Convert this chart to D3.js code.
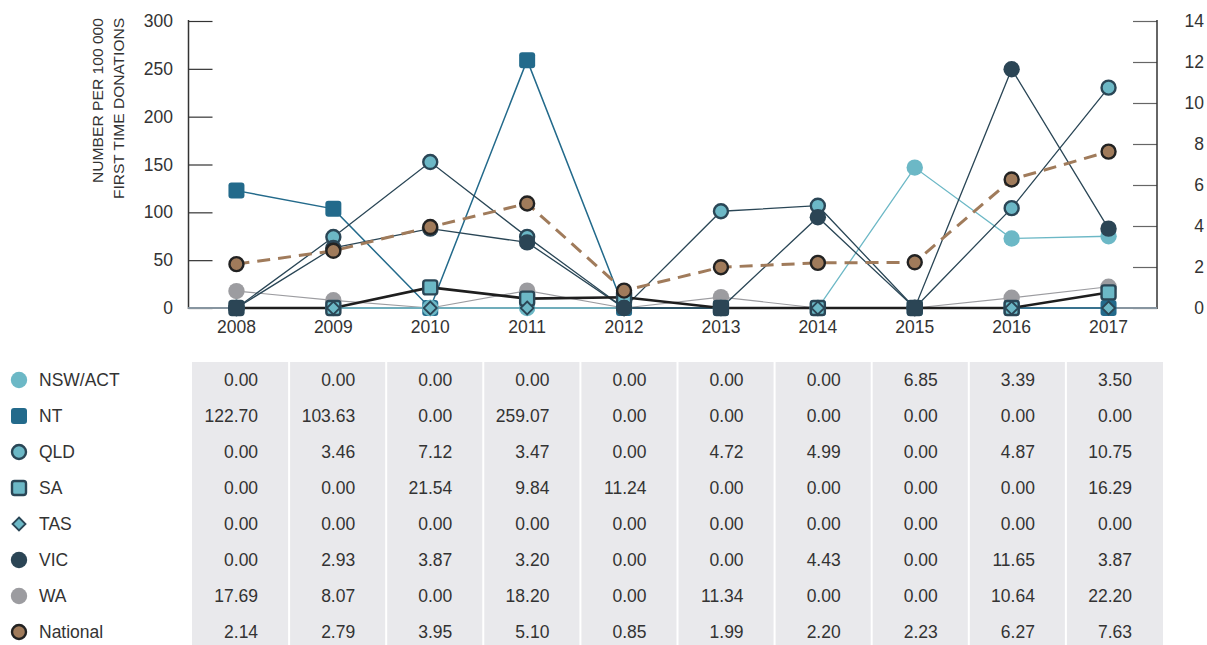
<!DOCTYPE html>
<html>
<head>
<meta charset="utf-8">
<script src="https://cdn.jsdelivr.net/npm/d3@7"></script>
<style>
  html, body { margin: 0; padding: 0; background: #fff; }
  svg { display: block; }
  text { font-family: "Liberation Sans", Arial, Helvetica, sans-serif; fill: #333; }
</style>
</head>
<body>
<svg id="chart" width="1207" height="645"></svg>
<script>
// ---- data ----
const years = ["2008","2009","2010","2011","2012","2013","2014","2015","2016","2017"];
const leftTicks = [0, 50, 100, 150, 200, 250, 300];
const rightTicks = [0, 2, 4, 6, 8, 10, 12, 14];
const nswAct   = [0, 0, 0, 0, 0, 0, 0, 6.85, 3.39, 3.50];
const nt       = [122.70, 103.63, 0, 259.07, 0, 0, 0, 0, 0, 0];
const qld      = [0, 3.46, 7.12, 3.47, 0, 4.72, 4.99, 0, 4.87, 10.75];
const sa       = [0, 0, 21.54, 9.84, 11.24, 0, 0, 0, 0, 16.29];
const tas      = [0, 0, 0, 0, 0, 0, 0, 0, 0, 0];
const vic      = [0, 2.93, 3.87, 3.20, 0, 0, 4.43, 0, 11.65, 3.87];
const wa       = [17.69, 8.07, 0, 18.20, 0, 11.34, 0, 0, 10.64, 22.20];
const national = [2.14, 2.79, 3.95, 5.10, 0.85, 1.99, 2.20, 2.23, 6.27, 7.63];
const yTitle = ["NUMBER PER 100 000", "FIRST TIME DONATIONS"];

const TEAL = "#6cb8c6", DARK = "#2a4656", NTBLUE = "#236a8b", GREY = "#9c9ca0", BROWN = "#a07b5b";

const series = [
  {name:"NSW/ACT", values:nswAct, axis:"R", line:TEAL, lw:1.3, marker:"circle", fill:TEAL, stroke:null},
  {name:"NT", values:nt, axis:"L", line:NTBLUE, lw:1.5, marker:"square", fill:NTBLUE, stroke:null},
  {name:"QLD", values:qld, axis:"R", line:DARK, lw:1.3, marker:"circle", fill:TEAL, stroke:DARK},
  {name:"SA", values:sa, axis:"L", line:"#1e1e1e", lw:2.6, marker:"square", fill:TEAL, stroke:DARK},
  {name:"TAS", values:tas, axis:"L", line:"#7e8e9a", lw:2.2, marker:"diamond", fill:TEAL, stroke:DARK},
  {name:"VIC", values:vic, axis:"R", line:DARK, lw:1.3, marker:"circle", fill:"#2b4555", stroke:null},
  {name:"WA", values:wa, axis:"L", line:GREY, lw:1.2, marker:"circle", fill:GREY, stroke:null},
  {name:"National", values:national, axis:"R", line:BROWN, lw:3, dash:"13,8", marker:"circle", fill:BROWN, stroke:"#222"}
];

const svg = d3.select("#chart");

// ---- scales ----
const x = d3.scaleBand().domain(years).range([188, 1157]);
const cx = d => x(d) + x.bandwidth() / 2;
const yL = d3.scaleLinear().domain([0, 300]).range([308, 21]);
const yR = d3.scaleLinear().domain([0, 14]).range([308, 21]);

// ---- axes ----
const gL = svg.append("g").attr("transform", "translate(188.5,0)")
  .call(d3.axisRight(yL).tickValues(leftTicks).tickSize(24).tickFormat(""));
gL.select(".domain").remove();
gL.selectAll(".tick line").attr("stroke", "#333").attr("stroke-width", 1.2);
svg.append("line").attr("x1", 188.5).attr("x2", 188.5).attr("y1", 20).attr("y2", 309)
  .attr("stroke", "#333").attr("stroke-width", 1.5);
svg.append("g").selectAll("text").data(leftTicks).join("text")
  .attr("x", 173).attr("y", d => yL(d)).attr("dy", "0.35em")
  .attr("text-anchor", "end").attr("font-size", 17.5).text(d => d);

const gR = svg.append("g").attr("transform", "translate(1157,0)")
  .call(d3.axisLeft(yR).tickValues(rightTicks).tickSize(24).tickFormat(""));
gR.select(".domain").remove();
gR.selectAll(".tick line").attr("stroke", "#666").attr("stroke-width", 1.2);
svg.append("line").attr("x1", 1157).attr("x2", 1157).attr("y1", 20).attr("y2", 309)
  .attr("stroke", "#333").attr("stroke-width", 1.5);
svg.append("g").selectAll("text").data(rightTicks).join("text")
  .attr("x", 1204).attr("y", d => yR(d)).attr("dy", "0.35em")
  .attr("text-anchor", "end").attr("font-size", 17.5).text(d => d);

// baseline (x axis)
svg.append("line").attr("x1", 188).attr("x2", 1157).attr("y1", 308).attr("y2", 308)
  .attr("stroke", "#8795a0").attr("stroke-width", 2.2);

svg.append("g").selectAll("text").data(years).join("text")
  .attr("x", d => cx(d)).attr("y", 333).attr("text-anchor", "middle")
  .attr("font-size", 17.5).text(d => d);

// y title
const titleLen = [165, 181];
yTitle.forEach((t, i) => {
  svg.append("text").attr("transform", `translate(${103 + i * 21},18) rotate(-90)`)
    .attr("text-anchor", "end").attr("font-size", 15.5)
    .attr("textLength", titleLen[i]).attr("lengthAdjust", "spacingAndGlyphs")
    .text(t);
});

// ---- lines ----
const lineOrder = ["TAS", "WA", "NSW/ACT", "NT", "QLD", "VIC", "SA", "National"];
const gLines = svg.append("g");
lineOrder.forEach(n => {
  const s = series.find(v => v.name === n);
  const ys = s.axis === "L" ? yL : yR;
  const ln = d3.line().x((d, i) => cx(years[i])).y(d => ys(d));
  gLines.append("path").datum(s.values).attr("d", ln).attr("fill", "none")
    .attr("stroke", s.line).attr("stroke-width", s.lw)
    .attr("stroke-dasharray", s.dash || null);
});

// ---- markers ----
function drawMarker(g, s, px, py) {
  if (s.marker === "circle") {
    if (s.stroke) {
      g.append("circle").attr("cx", px).attr("cy", py).attr("r", 7)
        .attr("fill", s.fill).attr("stroke", s.stroke).attr("stroke-width", 2.4);
    } else {
      g.append("circle").attr("cx", px).attr("cy", py).attr("r", 8.2).attr("fill", s.fill);
    }
  } else if (s.marker === "square") {
    if (s.stroke) {
      g.append("rect").attr("x", px - 7).attr("y", py - 7).attr("width", 14).attr("height", 14)
        .attr("rx", 2.5).attr("fill", s.fill).attr("stroke", s.stroke).attr("stroke-width", 2.4);
    } else {
      g.append("rect").attr("x", px - 8).attr("y", py - 8).attr("width", 16).attr("height", 16)
        .attr("rx", 3).attr("fill", s.fill);
    }
  } else if (s.marker === "diamond") {
    const r = 6.5;
    g.append("path").attr("d", `M${px},${py - r}L${px + r},${py}L${px},${py + r}L${px - r},${py}Z`)
      .attr("fill", s.fill).attr("stroke", s.stroke).attr("stroke-width", 1.8);
  }
}
const markerOrder = ["WA", "NT", "NSW/ACT", "SA", "QLD", "TAS", "VIC", "National"];
const gMarks = svg.append("g");
markerOrder.forEach(n => {
  const s = series.find(v => v.name === n);
  const ys = s.axis === "L" ? yL : yR;
  s.values.forEach((v, i) => drawMarker(gMarks, s, cx(years[i]), ys(v)));
});

// ---- table ----
const tx = d3.scaleBand().domain(years).range([192, 1163]);
const rowY = d3.scaleBand().domain(series.map(s => s.name)).range([362, 650]);
const gT = svg.append("g");
gT.append("rect").attr("x", 192).attr("y", 362).attr("width", 1163 - 192).attr("height", 283)
  .attr("fill", "#e9e9ec");
years.slice(1).forEach(yr => {
  gT.append("line").attr("x1", tx(yr)).attr("x2", tx(yr)).attr("y1", 362).attr("y2", 645)
    .attr("stroke", "#fff").attr("stroke-width", 2);
});
series.forEach(s => {
  const yc = rowY(s.name) + rowY.bandwidth() / 2;
  drawMarker(svg, s, 19, yc);
  svg.append("text").attr("x", 39).attr("y", yc).attr("dy", "0.35em")
    .attr("font-size", 17.5).text(s.name);
  s.values.forEach((v, i) => {
    gT.append("text").attr("x", tx(years[i]) + tx.bandwidth() - 31).attr("y", yc)
      .attr("dy", "0.35em").attr("text-anchor", "end").attr("font-size", 17.5)
      .text(v.toFixed(2));
  });
});
</script>
</body>
</html>
